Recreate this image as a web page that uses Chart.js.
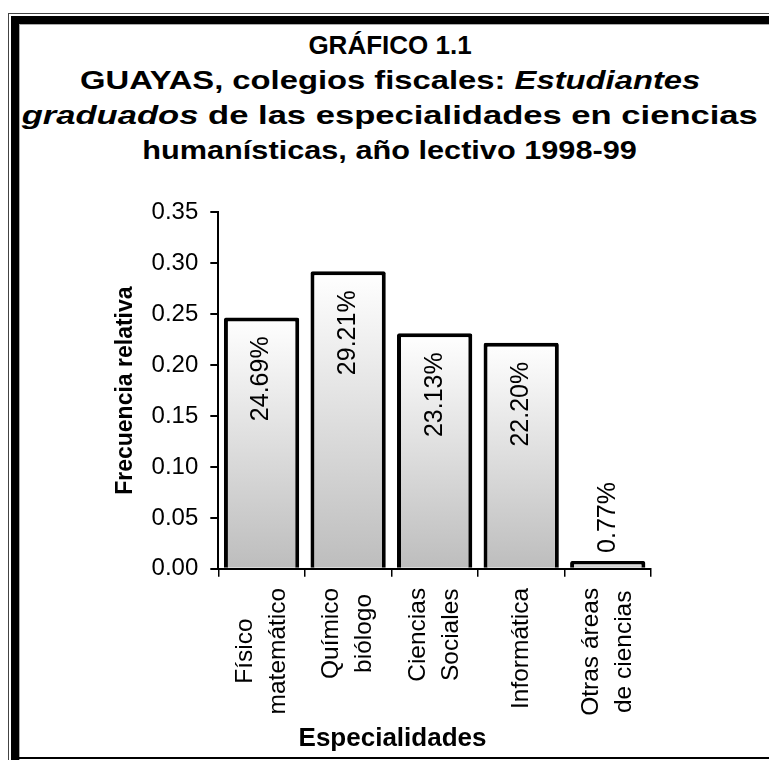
<!DOCTYPE html>
<html>
<head>
    <title>GRÁFICO 1.1</title>
    <script src="https://cdn.jsdelivr.net/npm/chart.js"></script>
    <style>
        body {
            margin: 0;
            width: 769px;
            height: 760px;
            overflow: hidden;
            background: white;
            font-family: 'Liberation Sans', Arial, sans-serif;
            position: relative;
        }

        .line { position: absolute; }

        .title {
            position: absolute;
            left: 10px;
            top: 28px;
            width: 760px;
            text-align: center;
            font-weight: bold;
            font-size: 26px;
            line-height: 35px;
            white-space: nowrap;
            color: #000;
        }

        .title span {
            display: inline-block;
        }

        #chart {
            position: absolute;
            left: 0;
            top: 186px;
        }
    </style>
</head>
<body>
    <!-- marco doble a la izquierda y arriba -->
    <div class="line" style="left:8px;top:13px;width:1px;bottom:0;background:#444"></div>
    <div class="line" style="left:8px;top:13px;right:0;height:1px;background:#444"></div>
    <div class="line" style="left:11px;top:16px;width:8px;bottom:0;background:#000"></div>
    <div class="line" style="left:11px;top:16px;right:0;height:8px;background:#000"></div>
    <div class="line" style="left:19px;top:24px;width:1px;bottom:0;background:#aaa"></div>
    <div class="line" style="left:19px;top:24px;right:0;height:1px;background:#aaa"></div>
    <div class="line" style="left:19px;top:757px;right:0;height:2px;background:#000"></div>

    <div class="title">
        <span>GRÁFICO 1.1</span><br>
        <span style="transform:scaleX(1.26)">GUAYAS, colegios fiscales: <i>Estudiantes</i></span><br>
        <span style="transform:scaleX(1.33)"><i>graduados</i> de las especialidades en ciencias</span><br>
        <span style="transform:scaleX(1.18)">humanísticas, año lectivo 1998-99</span>
    </div>

    <canvas id="chart" width="769" height="586"></canvas>

<script>
    // datos
    const especialidades = [
        ['Físico', 'matemático'],
        ['Químico', 'biólogo'],
        ['Ciencias', 'Sociales'],
        ['Informática'],
        ['Otras áreas', 'de ciencias']
    ];
    const frecuencias = [0.2469, 0.2921, 0.2313, 0.2220, 0.0077];
    const yTicks = [0, 0.05, 0.10, 0.15, 0.20, 0.25, 0.30, 0.35];
    const xTitulo = 'Especialidades';

    const FONT = "'Liberation Sans', Arial, sans-serif";

    // etiquetas del eje x, giradas y centradas entre sí, y título del eje
    const xLabelsPlugin = {
        id: 'xLabels',
        afterDraw(chart) {
            const xs = chart.scales.x;
            const ctx = chart.ctx;
            ctx.save();
            ctx.font = '24.5px ' + FONT;
            ctx.fillStyle = '#000';
            ctx.textAlign = 'center';
            ctx.textBaseline = 'middle';
            const top = xs.top + 19;
            especialidades.forEach((lines, i) => {
                const x = xs.getPixelForValue(i);
                const maxW = Math.max(...lines.map(l => ctx.measureText(l).width));
                lines.forEach((l, j) => {
                    ctx.save();
                    ctx.translate(x + (j - (lines.length - 1) / 2) * 33, top + maxW / 2);
                    ctx.rotate(-Math.PI / 2);
                    ctx.fillText(l, 0, 0);
                    ctx.restore();
                });
            });
            // título del eje x, centrado en el gráfico completo
            ctx.font = 'bold 26px ' + FONT;
            ctx.fillText(xTitulo, chart.width / 2 + 8, xs.top + 170);
            ctx.restore();
        }
    };

    // porcentajes sobre las barras
    const valueLabelsPlugin = {
        id: 'valueLabels',
        afterDatasetsDraw(chart) {
            const ctx = chart.ctx;
            const meta = chart.getDatasetMeta(0);
            ctx.save();
            ctx.font = '25px ' + FONT;
            ctx.fillStyle = '#000';
            ctx.textBaseline = 'middle';
            meta.data.forEach((bar, i) => {
                const txt = (frecuencias[i] * 100).toFixed(2) + '%';
                const w = ctx.measureText(txt).width;
                ctx.save();
                if (bar.base - bar.y > w + 30) {
                    ctx.translate(bar.x, bar.y + 19);
                    ctx.rotate(-Math.PI / 2);
                    ctx.textAlign = 'right';
                } else {
                    ctx.translate(bar.x, bar.y - 8);
                    ctx.rotate(-Math.PI / 2);
                    ctx.textAlign = 'left';
                }
                ctx.fillText(txt, 0, 0);
                ctx.restore();
            });
            ctx.restore();
        }
    };

    new Chart(document.getElementById('chart'), {
        type: 'bar',
        data: {
            labels: especialidades,
            datasets: [{
                data: frecuencias,
                backgroundColor: ctx => {
                    const c = ctx.chart;
                    const ys = c.scales.y;
                    if (!ys || ctx.type !== 'data') return '#d0d0d0';
                    const top = ys.getPixelForValue(ctx.raw);
                    const base = ys.getPixelForValue(0);
                    if (!isFinite(top) || !isFinite(base) || top === base) return '#d0d0d0';
                    const g = c.ctx.createLinearGradient(0, top, 0, base);
                    g.addColorStop(0, '#ffffff');
                    g.addColorStop(1, '#bdbdbd');
                    return g;
                },
                borderColor: '#000',
                borderWidth: 4,
                borderRadius: 2,
                barPercentage: 0.87,
                categoryPercentage: 1
            }]
        },
        options: {
            responsive: false,
            animation: false,
            devicePixelRatio: 1,
            layout: { padding: { left: 108, right: 118, top: 2, bottom: 6 } },
            plugins: {
                legend: { display: false },
                tooltip: { enabled: false }
            },
            scales: {
                x: {
                    grid: {
                        offset: true,
                        drawOnChartArea: false,
                        tickLength: 8,
                        color: '#000',
                        lineWidth: 1.5
                    },
                    border: { color: '#000', width: 2 },
                    ticks: {
                        color: 'rgba(0,0,0,0)',
                        font: { family: FONT, size: 24.5 },
                        minRotation: 90,
                        maxRotation: 90,
                        autoSkip: false,
                        padding: 11
                    },
                    title: {
                        display: true,
                        text: xTitulo,
                        color: 'rgba(0,0,0,0)',
                        font: { family: FONT, size: 26, weight: 'bold' },
                        padding: { top: 8, bottom: 0 }
                    }
                },
                y: {
                    min: yTicks[0],
                    max: yTicks[yTicks.length - 1],
                    afterBuildTicks: scale => {
                        scale.ticks = yTicks.map(v => ({ value: v }));
                    },
                    grid: {
                        drawOnChartArea: false,
                        tickLength: 8,
                        color: '#000',
                        lineWidth: 2
                    },
                    border: { color: '#000', width: 2 },
                    ticks: {
                        color: '#000',
                        font: { family: FONT, size: 24 },
                        padding: 12,
                        callback: v => Number(v).toFixed(2)
                    },
                    title: {
                        display: true,
                        text: 'Frecuencia relativa',
                        color: '#000',
                        font: { family: FONT, size: 23, weight: 'bold' },
                        padding: { top: 4, bottom: 0 }
                    }
                }
            }
        },
        plugins: [xLabelsPlugin, valueLabelsPlugin]
    });
</script>
</body>
</html>
